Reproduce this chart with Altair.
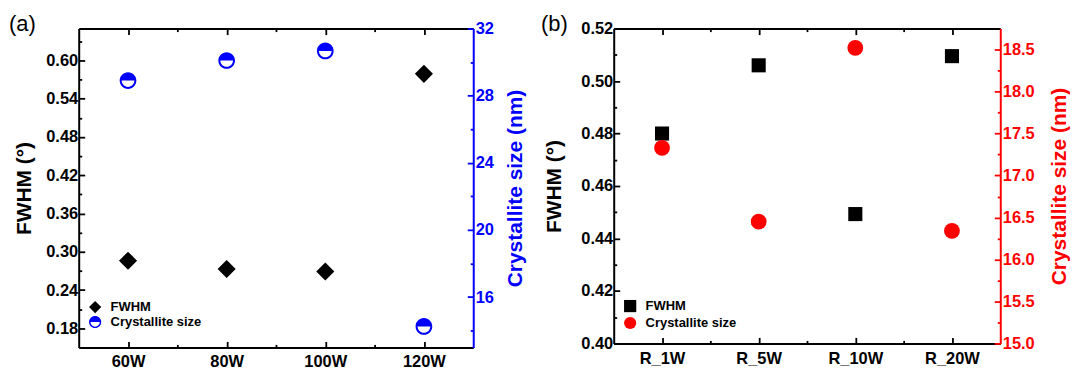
import json
import altair as alt
import pandas as pd

FONT = "Liberation Sans"
BLUE = "#0000ff"
RED = "#ff0000"
BLACK = "#000000"

# ---------------- data: panel (a) ----------------
a_power = [60, 80, 100, 120]
a_fwhm = [0.286, 0.273, 0.269, 0.579]
a_cryst = [28.9, 30.1, 30.67, 14.25]

# ---------------- data: panel (b) ----------------
b_samples = ["R_1W", "R_5W", "R_10W", "R_20W"]
b_fwhm = [0.480, 0.506, 0.4493, 0.5095]
b_cryst = [17.33, 16.45, 18.52, 16.34]

# axis tick values
a_y_major = [0.18, 0.24, 0.30, 0.36, 0.42, 0.48, 0.54, 0.60]
a_y_minor = [0.21, 0.27, 0.33, 0.39, 0.45, 0.51, 0.57, 0.63]
a_r_major = [16, 20, 24, 28, 32]
a_r_minor = [14, 18, 22, 26, 30]
a_x_minor = [70, 90, 110]

b_y_major = [0.40, 0.42, 0.44, 0.46, 0.48, 0.50, 0.52]
b_y_minor = [0.41, 0.43, 0.45, 0.47, 0.49, 0.51]
b_r_major = [15.0, 15.5, 16.0, 16.5, 17.0, 17.5, 18.0, 18.5]
b_r_minor = [15.25, 15.75, 16.25, 16.75, 17.25, 17.75, 18.25]
b_x_major = [1, 2, 3, 4]
b_x_minor = [1.5, 2.5, 3.5]

HALF = ("M-1,0A1,1,0,0,1,1,0Z "
        "M-1,0A1,1,0,0,0,1,0L0.76,0A0.76,0.76,0,0,1,-0.76,0Z")

LBL = 16.5
TTL = 21


def ax(orient, values, color, major=True, labels=False, domain=False,
       fmt=None, label_expr=None, title=None, title_pad=4, label_pad=6,
       title_angle=None, title_baseline=None):
    kw = dict(
        orient=orient, values=values, grid=False,
        tickSize={"expr": "-6" if major else "-3"},
        tickColor=color, tickWidth=1.8,
        domain=domain, domainColor=color, domainWidth=2,
        labels=labels, labelColor=color, labelFont=FONT,
        labelFontSize=LBL, labelFontWeight="bold", labelFlush=False,
        labelOverlap=False, labelPadding=label_pad,
        title=title,
    )
    if fmt:
        kw["format"] = fmt
    if label_expr:
        kw["labelExpr"] = label_expr
    if title:
        kw.update(titleFont=FONT, titleFontSize=TTL, titleFontWeight="bold",
                  titleColor=color, titlePadding=title_pad)
        if title_angle is not None:
            kw["titleAngle"] = title_angle
        if title_baseline:
            kw["titleBaseline"] = title_baseline
    return alt.Axis(**kw)


def panel(xs, fwhm, cryst, xdom, ydom, rdom, x_major, x_minor, x_expr,
          y_major, y_minor, y_fmt, r_major, r_minor, r_fmt, rcolor,
          shapes, sizes, width, height, tag, tag_dx, legx, legy, legrow,
          lt_pad, rt_pad, xl_pad):
    df_f = pd.DataFrame({"x": xs, "v": fwhm, "series": "FWHM"})
    df_c = pd.DataFrame({"x": xs, "v": cryst, "series": "Crystallite size"})
    xscale = alt.Scale(domain=xdom, nice=False, zero=False)
    yscale = alt.Scale(domain=ydom, nice=False, zero=False)
    rscale = alt.Scale(domain=rdom, nice=False, zero=False)
    dom = ["FWHM", "Crystallite size"]
    leg = alt.Legend(orient="none", legendX=legx, legendY=legy, title=None,
                     labelFont=FONT, labelFontSize=13, labelFontWeight="bold",
                     labelColor=BLACK, symbolSize=150, labelOffset=9,
                     rowPadding=legrow, padding=0, symbolStrokeWidth=0)
    cscale = alt.Scale(domain=dom, range=[BLACK, rcolor])
    sscale = alt.Scale(domain=dom, range=shapes)

    A = alt.Chart(df_f).mark_point(filled=True, opacity=1, size=sizes[0]).encode(
        x=alt.X("x:Q", scale=xscale,
                axis=ax("bottom", x_major, BLACK, labels=True, domain=True,
                        label_expr=x_expr, label_pad=xl_pad)),
        y=alt.Y("v:Q", scale=yscale,
                axis=ax("left", y_major, BLACK, labels=True, domain=True,
                        fmt=y_fmt, title="FWHM (°)", label_pad=7,
                        title_pad=lt_pad)),
        color=alt.Color("series:N", scale=cscale, legend=leg),
        shape=alt.Shape("series:N", scale=sscale, legend=leg),
    )
    B = alt.Chart(df_c).mark_point(filled=True, opacity=1, size=sizes[1]).encode(
        x=alt.X("x:Q", scale=xscale,
                axis=ax("top", x_major, BLACK, domain=True)),
        y=alt.Y("v:Q", scale=rscale,
                axis=ax("right", r_major, rcolor, labels=True, domain=True,
                        fmt=r_fmt, title="Crystallite size (nm)", label_pad=8,
                        title_pad=rt_pad, title_angle=270,
                        title_baseline="top")),
        color=alt.Color("series:N", scale=cscale, legend=leg),
        shape=alt.Shape("series:N", scale=sscale, legend=leg),
    )
    C = alt.Chart(df_f).mark_point(opacity=0).encode(
        x=alt.X("x:Q", scale=xscale, axis=ax("bottom", x_minor, BLACK, major=False)),
        y=alt.Y("v:Q", scale=yscale, axis=ax("left", y_minor, BLACK, major=False)),
    )
    D = alt.Chart(df_c).mark_point(opacity=0).encode(
        x=alt.X("x:Q", scale=xscale, axis=ax("top", x_minor, BLACK, major=False)),
        y=alt.Y("v:Q", scale=rscale, axis=ax("right", r_minor, rcolor, major=False)),
    )
    E = alt.Chart(pd.DataFrame({"t": [tag]})).mark_text(
        align="left", baseline="alphabetic", font=FONT, fontSize=22,
        color=BLACK).encode(text="t:N", x=alt.value(tag_dx), y=alt.value(2))
    return (
        alt.layer(A, B, C, D, E)
        .resolve_scale(y="independent")
        .resolve_axis(x="independent", y="independent")
        .properties(width=width, height=height)
    )


pa = panel(a_power, a_fwhm, a_cryst, [50, 130], [0.15, 0.65], [13, 32],
           a_power, a_x_minor, "datum.value + 'W'",
           a_y_major, a_y_minor, ".2f", a_r_major, a_r_minor, "d", BLUE,
           ["diamond", HALF], [330, 280], 396, 320, "(a)", -70, 10, 273, 1,
           11, 11, 12)

b_idx = list(range(1, len(b_samples) + 1))
b_expr = json.dumps(b_samples) + "[datum.value - 1]"
pb = panel(b_idx, b_fwhm, b_cryst, [0.5, 4.5], [0.40, 0.52], [15.0, 18.75],
           b_x_major, b_x_minor, b_expr,
           b_y_major, b_y_minor, ".2f", b_r_major, b_r_minor, ".1f", RED,
           ["square", "circle"], [200, 250], 388, 316, "(b)", -73, 10, 272, 3,
           16, 14, 13)

chart = (
    alt.hconcat(pa, pb, spacing=141, bounds="flush")
    .resolve_scale(color="independent", shape="independent")
    .properties(padding={"left": 9, "top": 12, "right": 5, "bottom": 5},
                background="white")
    .configure_view(stroke=None)
)

chart.save("out.html", embed_options={"renderer": "svg", "actions": False})
